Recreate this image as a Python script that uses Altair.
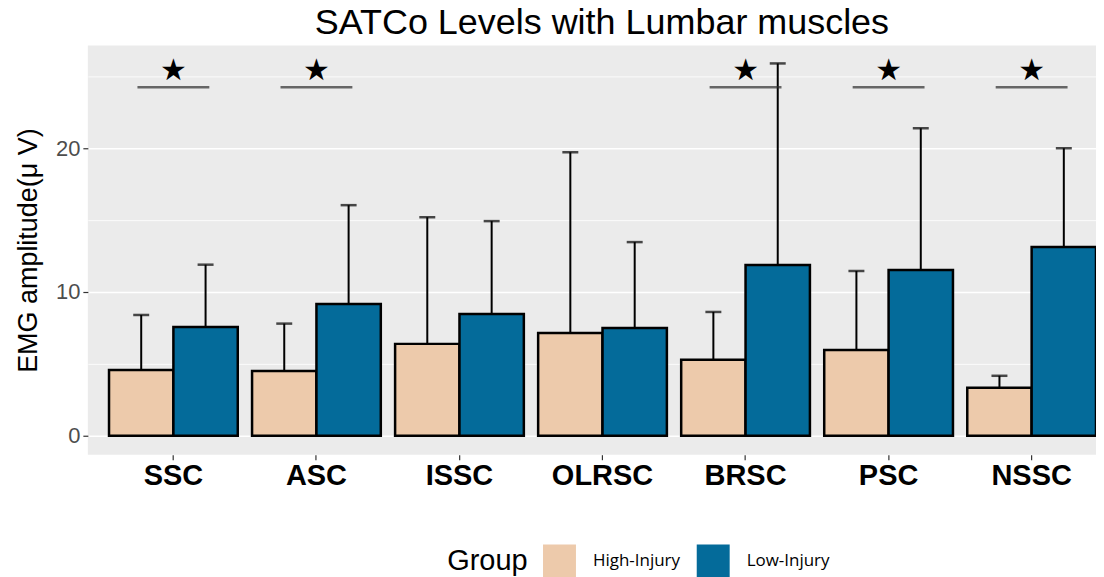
import altair as alt
import pandas as pd

categories = ["SSC", "ASC", "ISSC", "OLRSC", "BRSC", "PSC", "NSSC"]
groups = ["High-Injury", "Low-Injury"]
high_mean = [4.58, 4.50, 6.39, 7.15, 5.28, 5.97, 3.33]
high_upper = [8.40, 7.80, 15.20, 19.72, 8.61, 11.46, 4.17]
low_mean = [7.57, 9.17, 8.47, 7.50, 11.88, 11.53, 13.13]
low_upper = [11.90, 16.04, 14.93, 13.47, 25.90, 21.39, 20.00]
significant = [True, True, False, False, True, True, True]
sig_line_value = 24.24
star_value = 25.37
colors = ["#EDCAAB", "#046B9A"]

rows = []
for i, c in enumerate(categories):
    rows.append(dict(cat=c, group=groups[0], mean=high_mean[i], upper=high_upper[i]))
    rows.append(dict(cat=c, group=groups[1], mean=low_mean[i], upper=low_upper[i]))
df = pd.DataFrame(rows)
sig_df = pd.DataFrame(dict(cat=[c for c, s in zip(categories, significant) if s]))
sig_df["line_y"] = sig_line_value
sig_df["star_y"] = star_value
sig_df["star"] = "★"

YTITLE = "EMG amplitude(μ V)"
yscale = alt.Scale(domain=[-1.32, 27.15], nice=False, zero=False)
yaxis = alt.Axis(
    values=[0, 5, 10, 15, 20, 25],
    labelExpr="datum.value % 10 == 0 ? datum.label : ''",
    gridColor="white",
    gridWidth={"condition": {"test": "datum.value % 10 === 0", "value": 1.6}, "value": 0.8},
    tickOpacity={"condition": {"test": "datum.value % 10 === 0", "value": 1}, "value": 0},
    tickColor="#333333", tickSize=5, tickWidth=1.2,
    labelFont="Liberation Sans", labelFontSize=22, labelColor="#4D4D4D", labelPadding=3,
    titleFont="Liberation Sans", titleFontSize=27, titleFontWeight="normal", titleColor="black",
    titlePadding=13, domain=False,
)
xenc = alt.X(
    "cat:N", sort=categories, title=None,
    scale=alt.Scale(paddingInner=0.1, paddingOuter=0.074, align=1),
    axis=alt.Axis(
        labelAngle=0, bandPosition=0.5, labelFont="Liberation Sans", labelFontSize=29,
        labelFontWeight="bold", labelColor="black", tickColor="#333333", tickSize=5,
        tickWidth=1.2, gridColor="white", gridWidth=1.6, domain=False, labelPadding=2,
    ),
)
xoff = alt.XOffset("group:N", sort=groups, scale=alt.Scale(paddingInner=0, paddingOuter=0))

base = alt.Chart(df)
bars = base.mark_bar(stroke="black", strokeWidth=2.5).encode(
    x=xenc, xOffset=xoff,
    y=alt.Y("mean:Q", scale=yscale, axis=yaxis, title=YTITLE),
    color=alt.Color("group:N", sort=groups, scale=alt.Scale(domain=groups, range=colors),
                    legend=alt.Legend(title="Group")),
)
err = base.mark_rule(color="black", strokeWidth=2).encode(
    x=xenc, xOffset=xoff,
    y=alt.Y("mean:Q", scale=yscale, title=YTITLE), y2="upper:Q",
)
caps = base.mark_tick(color="black", thickness=2.5, size=16).encode(
    x=xenc, xOffset=xoff,
    y=alt.Y("upper:Q", scale=yscale, title=YTITLE),
)
sig_lines = alt.Chart(sig_df).mark_tick(color="#2E2E2E", thickness=2.5, size=72).encode(
    x=xenc, y=alt.Y("line_y:Q", scale=yscale, title=YTITLE),
)
stars = alt.Chart(sig_df).mark_text(font="DejaVu Sans", fontSize=30, color="black", baseline="middle").encode(
    x=xenc, y=alt.Y("star_y:Q", scale=yscale, title=YTITLE), text="star:N",
)

chart = alt.layer(err, caps, bars, sig_lines, stars).properties(
    width=1010, height=410,
    title=alt.TitleParams("SATCo Levels with Lumbar muscles", font="Liberation Sans", fontSize=36,
                          fontWeight="normal", color="black", anchor="middle", offset=3, dx=10),
    padding={"left": 80, "top": 37, "right": 0, "bottom": 123},
    autosize=alt.AutoSizeParams(type="none"),
).configure_view(fill="#EBEBEB", stroke=None).configure_legend(
    orient="none", legendX=360, legendY=500, direction="horizontal",
    titleOrient="left", titleFont="Liberation Sans", titleFontSize=29, titleFontWeight="normal",
    titleColor="black", titlePadding=15,
    labelFont="Open Sans", labelFontSize=17, labelColor="black", labelOffset=17,
    symbolType="square", symbolSize=1089, symbolStrokeWidth=0, symbolOpacity=1,
    columnPadding=16,
)

chart.save("out.html", embed_options={"renderer": "svg", "actions": False})
